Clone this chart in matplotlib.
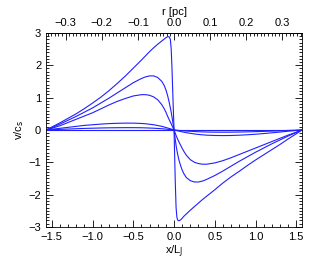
import numpy as np
import matplotlib
matplotlib.use("Agg")
import matplotlib.pyplot as plt
from matplotlib.ticker import MultipleLocator, FuncFormatter

plt.rcParams['font.family'] = ['Liberation Sans', 'DejaVu Sans']

# sample positions (x / L_J), left half and right half
x_left = [-1.5708, -1.5, -1.4, -1.3, -1.2, -1.1, -1.0, -0.9, -0.8, -0.7, -0.6, -0.5,
          -0.4, -0.35, -0.3, -0.25, -0.2, -0.15, -0.12, -0.1, -0.08, -0.06, -0.045,
          -0.035, -0.025, -0.015, 0.0]
x_right = [0.0, 0.015, 0.025, 0.035, 0.045, 0.06, 0.08, 0.1, 0.12, 0.15, 0.2, 0.25,
           0.3, 0.35, 0.4, 0.5, 0.6, 0.7, 0.8, 0.9, 1.0, 1.1, 1.2, 1.3, 1.4, 1.5, 1.5708]

# v / c_s
v1_left = [0, 0.09, 0.22, 0.36, 0.50, 0.66, 0.83, 1.01, 1.21, 1.43, 1.66, 1.91,
           2.16, 2.29, 2.42, 2.54, 2.65, 2.75, 2.81, 2.85, 2.88, 2.88, 2.80,
           2.50, 1.90, 1.10, 0]
v1_right = [0, -1.60, -2.40, -2.70, -2.79, -2.81, -2.78, -2.73, -2.67, -2.60, -2.48, -2.37,
            -2.26, -2.15, -2.05, -1.85, -1.64, -1.45, -1.28, -1.10, -0.93, -0.77, -0.61,
            -0.45, -0.28, -0.12, 0]
v2_left = [0, 0.07, 0.18, 0.30, 0.42, 0.55, 0.68, 0.83, 0.98, 1.14, 1.30, 1.46,
           1.59, 1.64, 1.67, 1.67, 1.62, 1.50, 1.37, 1.24, 1.07, 0.86, 0.68,
           0.55, 0.40, 0.24, 0]
v2_right = [0, -0.30, -0.48, -0.63, -0.76, -0.93, -1.10, -1.24, -1.35, -1.47, -1.57, -1.61,
            -1.61, -1.58, -1.53, -1.41, -1.27, -1.12, -0.97, -0.83, -0.69, -0.56, -0.43,
            -0.31, -0.19, -0.08, 0]
v3_left = [0, 0.05, 0.13, 0.23, 0.33, 0.43, 0.53, 0.65, 0.77, 0.88, 0.97, 1.05,
           1.09, 1.09, 1.07, 1.02, 0.93, 0.78, 0.65, 0.55, 0.43, 0.32, 0.24,
           0.19, 0.13, 0.08, 0]
v3_right = [0, -0.10, -0.17, -0.23, -0.29, -0.37, -0.47, -0.57, -0.66, -0.78, -0.92, -1.00,
            -1.04, -1.06, -1.06, -1.02, -0.95, -0.86, -0.76, -0.66, -0.56, -0.46, -0.36,
            -0.26, -0.16, -0.07, 0]
v4_left = [0, 0.02, 0.05, 0.08, 0.11, 0.14, 0.16, 0.18, 0.195, 0.205, 0.21, 0.21,
           0.20, 0.19, 0.175, 0.16, 0.135, 0.11, 0.09, 0.075, 0.06, 0.045, 0.035,
           0.027, 0.02, 0.012, 0]
v4_right = [0, -0.010, -0.016, -0.022, -0.028, -0.037, -0.048, -0.060, -0.070, -0.085, -0.105, -0.125,
            -0.140, -0.152, -0.162, -0.172, -0.175, -0.172, -0.163, -0.150, -0.133, -0.112, -0.090,
            -0.066, -0.040, -0.016, 0]
v5_left = [0, 0.007, 0.017, 0.027, 0.037, 0.047, 0.053, 0.060, 0.065, 0.068, 0.070, 0.070,
           0.067, 0.063, 0.058, 0.053, 0.045, 0.037, 0.030, 0.025, 0.020, 0.015, 0.012,
           0.009, 0.007, 0.004, 0]
v5_right = [0, -0.004, -0.006, -0.009, -0.011, -0.015, -0.019, -0.024, -0.028, -0.034, -0.042, -0.050,
            -0.056, -0.061, -0.065, -0.069, -0.070, -0.069, -0.065, -0.060, -0.053, -0.045, -0.036,
            -0.026, -0.016, -0.006, 0]
v0 = [0] * len(x_left)

series = [(v1_left, v1_right), (v2_left, v2_right), (v3_left, v3_right),
          (v4_left, v4_right), (v5_left, v5_right), (v0, v0)]

pc_per_LJ = 0.2254

fig = plt.figure(figsize=(3.29, 2.63), dpi=100)
ax = fig.add_axes([0.140, 0.137, 0.778, 0.738])

for vl, vr in series:
    ax.plot(x_left + x_right[1:], list(vl) + list(vr)[1:], color='#2020ff', lw=0.8)

fmt = FuncFormatter(lambda v, p: f"{v:.1f}".replace('-', '\u2212'))

ax.set_xlim(-np.pi / 2, np.pi / 2)
ax.set_ylim(-3, 3)
ax.xaxis.set_major_locator(MultipleLocator(0.5))
ax.xaxis.set_minor_locator(MultipleLocator(0.1))
ax.yaxis.set_major_locator(MultipleLocator(1))
ax.yaxis.set_minor_locator(MultipleLocator(0.1))
ax.tick_params(which='both', direction='in', top=False, right=True, labelsize=8,
               width=0.6, colors='black')
ax.tick_params(which='major', length=5)
ax.tick_params(which='minor', length=2.5)
ax.xaxis.set_major_formatter(fmt)
ax.set_xlabel('x/L$_\\mathrm{J}$', fontsize=8, labelpad=1)
ax.set_ylabel('v/c$_\\mathrm{s}$', fontsize=8, labelpad=2)
for s in ax.spines.values():
    s.set_linewidth(0.6)

top = ax.secondary_xaxis('top', functions=(lambda x: x * pc_per_LJ, lambda r: r / pc_per_LJ))
top.xaxis.set_major_locator(MultipleLocator(0.1))
top.xaxis.set_minor_locator(MultipleLocator(0.01))
top.tick_params(which='both', direction='in', labelsize=8, width=0.6)
top.tick_params(which='major', length=5)
top.tick_params(which='minor', length=2.5)
top.xaxis.set_major_formatter(fmt)
top.set_xlabel('r [pc]', fontsize=8, labelpad=2)
top.spines['top'].set_linewidth(0.6)

fig.savefig('out.png', dpi=100)
